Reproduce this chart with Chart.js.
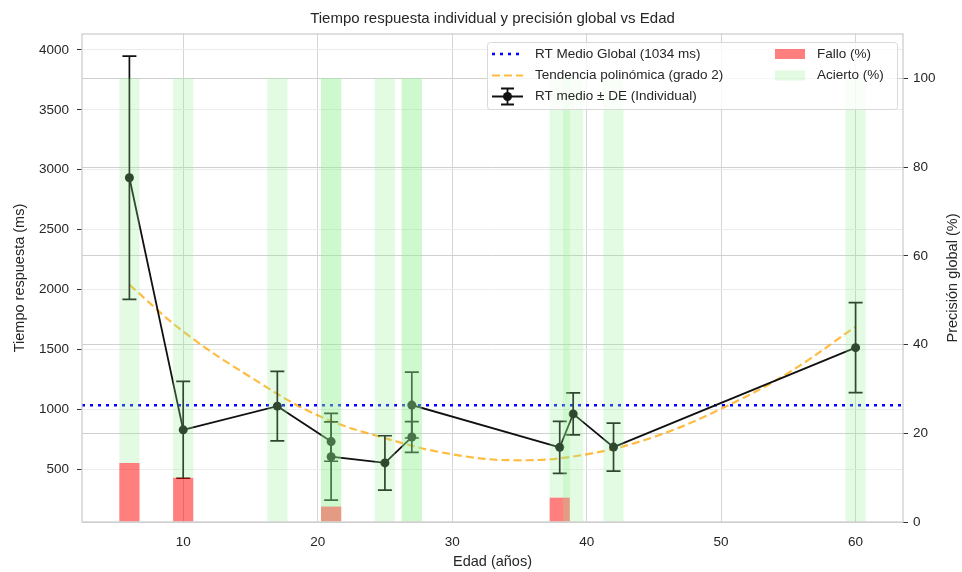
<!DOCTYPE html>
<html>
<head>
<meta charset="utf-8">
<script src="https://cdn.jsdelivr.net/npm/chart.js@4"></script>
<style>
  html, body { margin: 0; padding: 0; background: #fff; }
</style>
</head>
<body>
<canvas id="chart" width="962" height="572"></canvas>
<script>
// participants (sorted by age, in drawing order)
const ages      = [6, 10, 17, 21, 21, 25, 27, 27, 38, 39, 42, 60];
const rtMean    = [2933, 829, 1027, 731, 605, 553, 769, 1036, 683, 962, 685, 1515];
const rtSd      = [1015, 404, 290, 164, 362, 227, 128, 275, 217, 175, 201, 376];
const falloPct  = [13.3, 10, 0, 0, 3.5, 0, 0, 0, 5.5, 0, 0, 0];

const rtGlobal  = 1034;

// polynomial trend
const trendAges = [6, 10, 15, 20, 25, 30, 35, 40, 45, 50, 55, 60];
const trendRt   = [2040, 1650, 1270, 950, 760, 625, 575, 625, 770, 1005, 1305, 1690];

const xTicks    = [10, 20, 30, 40, 50, 60];
const rtTicks   = [500, 1000, 1500, 2000, 2500, 3000, 3500, 4000];
const pctTicks  = [0, 20, 40, 60, 80, 100];

const X_MIN = 2.475, X_MAX = 63.525;

const FONT = '"Liberation Sans", Arial, sans-serif';
const TXT  = '#262626';
Chart.defaults.font.family = FONT;
Chart.defaults.color = TXT;

const COL = {
  acierto: 'rgba(144,238,144,0.25)',
  fallo:   'rgba(255,0,0,0.5)',
  rt:      '#111111',
  trend:   'rgba(255,165,0,0.75)',
  global:  '#0000ff'
};
const RT_INDEX = 2;

const errorBars = {
  id: 'errorBars',
  beforeDatasetDraw(chart, args) {
    if (args.index !== RT_INDEX) return;
    const { ctx, scales: { x, y } } = chart;
    ctx.save();
    ctx.strokeStyle = COL.rt;
    ctx.lineWidth = 1.7;
    ages.forEach((a, i) => {
      const px  = x.getPixelForValue(a);
      const top = y.getPixelForValue(rtMean[i] + rtSd[i]);
      const bot = y.getPixelForValue(rtMean[i] - rtSd[i]);
      ctx.beginPath();
      ctx.moveTo(px, top); ctx.lineTo(px, bot);
      ctx.moveTo(px - 7, top); ctx.lineTo(px + 7, top);
      ctx.moveTo(px - 7, bot); ctx.lineTo(px + 7, bot);
      ctx.stroke();
    });
    ctx.restore();
  }
};

const frame = {
  id: 'frame',
  afterDatasetsDraw(chart) {
    const { ctx, chartArea: a } = chart;
    ctx.save();
    ctx.strokeStyle = '#cccccc';
    ctx.lineWidth = 1.25;
    ctx.strokeRect(a.left, a.top, a.right - a.left, a.bottom - a.top);
    ctx.restore();
  }
};

// right axis title, read bottom to top like the left one
const rightTitle = {
  id: 'rightTitle',
  afterDraw(chart) {
    const { ctx, chartArea: a } = chart;
    ctx.save();
    ctx.translate(chart.width - 9, (a.top + a.bottom) / 2);
    ctx.rotate(-Math.PI / 2);
    ctx.font = '14.5px ' + FONT;
    ctx.fillStyle = TXT;
    ctx.textAlign = 'center';
    ctx.textBaseline = 'middle';
    ctx.fillText('Precisión global (%)', 0, 0);
    ctx.restore();
  }
};

// two-column legend, upper right
const legendBox = {
  id: 'legendBox',
  afterDraw(chart) {
    const { ctx, chartArea: a } = chart;
    const bx = a.right - 416, by = a.top + 8, bw = 410, bh = 67;
    ctx.save();
    ctx.fillStyle = 'rgba(255,255,255,0.8)';
    ctx.strokeStyle = '#d9d9d9';
    ctx.lineWidth = 1;
    ctx.beginPath();
    ctx.roundRect(bx + 0.5, by + 0.5, bw, bh, 3);
    ctx.fill(); ctx.stroke();

    ctx.font = '13.5px ' + FONT;
    ctx.fillStyle = TXT;
    ctx.textBaseline = 'middle';
    const rows = [by + 12, by + 33.5, by + 54.5];
    const h1 = bx + 5, t1 = bx + 48;
    const h2 = bx + 288, t2 = bx + 330;

    // col 1
    ctx.lineWidth = 2.5; ctx.strokeStyle = COL.global; ctx.setLineDash([3, 5]);
    ctx.beginPath(); ctx.moveTo(h1, rows[0]); ctx.lineTo(h1 + 31, rows[0]); ctx.stroke();
    ctx.lineWidth = 2.2; ctx.strokeStyle = COL.trend; ctx.setLineDash([8, 4]);
    ctx.beginPath(); ctx.moveTo(h1, rows[1]); ctx.lineTo(h1 + 31, rows[1]); ctx.stroke();
    ctx.setLineDash([]);
    ctx.strokeStyle = COL.rt; ctx.lineWidth = 1.8;
    const cx = h1 + 15.5, cy = rows[2];
    ctx.beginPath();
    ctx.moveTo(h1, cy); ctx.lineTo(h1 + 31, cy);
    ctx.moveTo(cx, cy - 8); ctx.lineTo(cx, cy + 8);
    ctx.moveTo(cx - 6.5, cy - 8); ctx.lineTo(cx + 6.5, cy - 8);
    ctx.moveTo(cx - 6.5, cy + 8); ctx.lineTo(cx + 6.5, cy + 8);
    ctx.stroke();
    ctx.fillStyle = COL.rt;
    ctx.beginPath(); ctx.arc(cx, cy, 4.5, 0, Math.PI * 2); ctx.fill();

    ctx.fillStyle = TXT;
    ctx.fillText('RT Medio Global (' + rtGlobal + ' ms)', t1, rows[0]);
    ctx.fillText('Tendencia polinómica (grado 2)', t1, rows[1]);
    ctx.fillText('RT medio ± DE (Individual)', t1, rows[2]);

    // col 2
    ctx.fillStyle = COL.fallo;
    ctx.fillRect(h2, rows[0] - 5, 30, 10);
    ctx.fillStyle = COL.acierto;
    ctx.fillRect(h2, rows[1] - 5, 30, 10);
    ctx.fillStyle = TXT;
    ctx.fillText('Fallo (%)', t2, rows[0]);
    ctx.fillText('Acierto (%)', t2, rows[1]);
    ctx.restore();
  }
};

const setTicks = list => s => { s.ticks = list.map(v => ({ value: v })); };
const plain = v => String(v);

new Chart(document.getElementById('chart'), {
  data: {
    datasets: [
      {
        type: 'bar', label: 'Acierto (%)', yAxisID: 'y2', order: 0,
        data: ages.map((a, i) => ({ x: a, y: [falloPct[i], 100] })),
        backgroundColor: COL.acierto, borderWidth: 0,
        grouped: false, barPercentage: 1.5, categoryPercentage: 1
      },
      {
        type: 'bar', label: 'Fallo (%)', yAxisID: 'y2', order: 1,
        data: ages.map((a, i) => ({ x: a, y: [0, falloPct[i]] })),
        backgroundColor: COL.fallo, borderWidth: 0,
        grouped: false, barPercentage: 1.5, categoryPercentage: 1
      },
      {
        type: 'line', label: 'RT medio ± DE (Individual)', yAxisID: 'y', order: 2,
        data: ages.map((a, i) => ({ x: a, y: rtMean[i] })),
        borderColor: COL.rt, borderWidth: 1.8,
        pointRadius: 4.5, pointBackgroundColor: COL.rt, pointBorderWidth: 0
      },
      {
        type: 'line', label: 'Tendencia polinómica (grado 2)', yAxisID: 'y', order: 3,
        data: trendAges.map((a, i) => ({ x: a, y: trendRt[i] })),
        borderColor: COL.trend, borderWidth: 2.2, borderDash: [8, 4],
        tension: 0.4, pointRadius: 0
      },
      {
        type: 'line', label: 'RT Medio Global', yAxisID: 'y', order: 4,
        data: [{ x: X_MIN, y: rtGlobal }, { x: X_MAX, y: rtGlobal }],
        borderColor: COL.global, borderWidth: 2.5, borderDash: [3, 5],
        pointRadius: 0
      }
    ]
  },
  options: {
    responsive: false,
    animation: false,
    devicePixelRatio: 1,
    layout: { padding: 0 },
    plugins: {
      legend: { display: false },
      tooltip: { enabled: false },
      title: {
        display: true, fullSize: false,
        text: 'Tiempo respuesta individual y precisión global vs Edad',
        color: TXT, font: { size: 15, weight: 'normal' },
        padding: { top: 10, bottom: 6 }
      }
    },
    scales: {
      x: {
        type: 'linear', min: X_MIN, max: X_MAX, offset: false,
        afterBuildTicks: setTicks(xTicks),
        afterFit: s => { s.height = 50; },
        border: { display: false },
        grid: { color: '#d5d5d5', drawTicks: false, offset: false },
        ticks: { font: { size: 13.5 }, padding: 12, color: TXT, callback: plain },
        title: { display: true, text: 'Edad (años)', font: { size: 14.5 }, color: TXT,
                 padding: { top: 0, bottom: 1.6 } }
      },
      y: {
        type: 'linear', position: 'left', min: 60, max: 4133,
        afterBuildTicks: setTicks(rtTicks),
        afterFit: s => { s.width = 82; },
        border: { display: false },
        grid: { color: '#ececec', tickColor: '#333', tickLength: 5 },
        ticks: { font: { size: 13.5 }, padding: 8, color: TXT, callback: plain },
        title: { display: true, text: 'Tiempo respuesta (ms)', font: { size: 14.5 }, color: TXT,
                 padding: { top: 11.6, bottom: 0 } }
      },
      y2: {
        type: 'linear', position: 'right', min: 0, max: 110,
        afterBuildTicks: setTicks(pctTicks),
        afterFit: s => { s.width = 59; },
        border: { display: false },
        grid: { color: '#d0d0d0', tickColor: '#333', tickLength: 5 },
        ticks: { font: { size: 13.5 }, padding: 5, color: TXT, callback: plain },
        title: { display: false }
      }
    }
  },
  plugins: [errorBars, frame, rightTitle, legendBox]
});
</script>
</body>
</html>
